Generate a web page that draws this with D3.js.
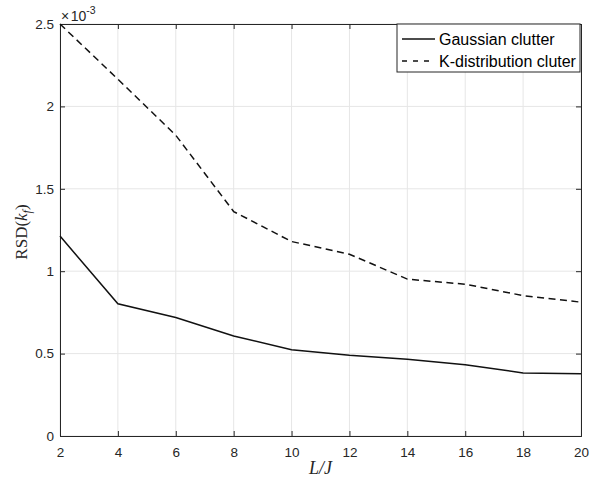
<!DOCTYPE html>
<html><head><meta charset="utf-8">
<script src="https://cdn.jsdelivr.net/npm/d3@7"></script>
<style>body{margin:0;background:#fff}svg{display:block}</style>
</head><body>
<script>
const xValues = [2, 4, 6, 8, 10, 12, 14, 16, 18, 20];
const gaussian = [1.213, 0.802, 0.719, 0.607, 0.524, 0.49, 0.466, 0.433, 0.383, 0.378];
const kdist = [2.5, 2.165, 1.825, 1.362, 1.18, 1.103, 0.952, 0.921, 0.852, 0.812];
const xTicks = [2, 4, 6, 8, 10, 12, 14, 16, 18, 20];
const yTicks = [0, 0.5, 1, 1.5, 2, 2.5];
const seriesNames = ["Gaussian clutter", "K-distribution cluter"];

const W = 602, H = 482;
const m = {left: 60, right: 21, top: 24, bottom: 46};
const svg = d3.select("body").append("svg").attr("width", W).attr("height", H);
const x = d3.scaleLinear().domain([2, 20]).range([m.left, W - m.right]);
const y = d3.scaleLinear().domain([0, 2.5]).range([H - m.bottom, m.top]);
const axisColor = "#262626";
const font = "Liberation Sans, Arial, sans-serif";

// grid
svg.append("g").selectAll("line").data(xTicks).join("line")
  .attr("x1", d => x(d)).attr("x2", d => x(d)).attr("y1", y(0)).attr("y2", y(2.5))
  .attr("stroke", "#e6e6e6").attr("stroke-width", 1);
svg.append("g").selectAll("line").data(yTicks).join("line")
  .attr("x1", x(2)).attr("x2", x(20)).attr("y1", d => y(d)).attr("y2", d => y(d))
  .attr("stroke", "#e6e6e6").attr("stroke-width", 1);

// axes
const tl = 5;
const xAxis = svg.append("g").attr("transform", `translate(0,${y(0)})`)
  .call(d3.axisBottom(x).tickValues(xTicks).tickSize(-tl).tickPadding(11).tickFormat(d3.format("d")));
const xAxisTop = svg.append("g").attr("transform", `translate(0,${y(2.5)})`)
  .call(d3.axisTop(x).tickValues(xTicks).tickSize(-tl).tickFormat(""));
const yAxis = svg.append("g").attr("transform", `translate(${x(2)},0)`)
  .call(d3.axisLeft(y).tickValues(yTicks).tickSize(-tl).tickPadding(6).tickFormat(d => d3.format("")(d)));
const yAxisR = svg.append("g").attr("transform", `translate(${x(20)},0)`)
  .call(d3.axisRight(y).tickValues(yTicks).tickSize(-tl).tickFormat(""));
[xAxis, xAxisTop, yAxis, yAxisR].forEach(g => {
  g.select(".domain").attr("stroke", axisColor).attr("stroke-width", 1);
  g.selectAll(".tick line").attr("stroke", axisColor);
  g.selectAll("text").attr("fill", axisColor).style("font-family", font).style("font-size", "13.5px");
});
xAxis.selectAll("text").attr("dy", "0.71em");

// exponent label
const ex = svg.append("text").attr("x", x(2) + 1).attr("y", 21)
  .attr("fill", axisColor).style("font-family", font).style("font-size", "14px");
ex.append("tspan").text("×");
ex.append("tspan").attr("dx", 1.5).text("10");
ex.append("tspan").attr("dy", -7).style("font-size", "10.5px").text("-3");

// axis labels
svg.append("text").attr("x", (x(2) + x(20)) / 2).attr("y", 474).attr("text-anchor", "middle")
  .attr("fill", axisColor).style("font-family", "Liberation Serif, Times New Roman, serif")
  .style("font-size", "18px").style("font-style", "italic").text("L/J");
const yl = svg.append("text").attr("transform", `translate(27,${(y(0) + y(2.5)) / 2 + 2}) rotate(-90)`)
  .attr("text-anchor", "middle").attr("fill", axisColor)
  .style("font-family", "Liberation Serif, Times New Roman, serif").style("font-size", "17px");
yl.append("tspan").text("RSD(");
yl.append("tspan").style("font-style", "italic").text("k");
yl.append("tspan").attr("dy", 4).style("font-size", "12px").style("font-style", "italic").text("f");
yl.append("tspan").attr("dy", -4).text(")");

// lines
const line = d3.line().x((d, i) => x(xValues[i])).y(d => y(d));
svg.append("path").datum(gaussian).attr("d", line).attr("fill", "none")
  .attr("stroke", "#111").attr("stroke-width", 1.5);
svg.append("path").datum(kdist).attr("d", line).attr("fill", "none")
  .attr("stroke", "#111").attr("stroke-width", 1.5).attr("stroke-dasharray", "7,4.5");

// legend
const lg = svg.append("g");
const lx = 397, ly = 24, lw = 183, lh = 48;
lg.append("rect").attr("x", lx).attr("y", ly).attr("width", lw).attr("height", lh)
  .attr("fill", "#fff").attr("stroke", axisColor).attr("stroke-width", 1);
const dashes = [null, "5,6"];
seriesNames.forEach((name, i) => {
  const cy = 39 + i * 22;
  lg.append("line").attr("x1", lx + 5).attr("x2", lx + 38).attr("y1", cy).attr("y2", cy)
    .attr("stroke", "#111").attr("stroke-width", 1.5).attr("stroke-dasharray", dashes[i]);
  lg.append("text").attr("x", lx + 42).attr("y", cy).attr("dy", "0.35em")
    .attr("fill", "#000").style("font-family", font).style("font-size", "16px").text(name);
});
</script>
</body></html>
